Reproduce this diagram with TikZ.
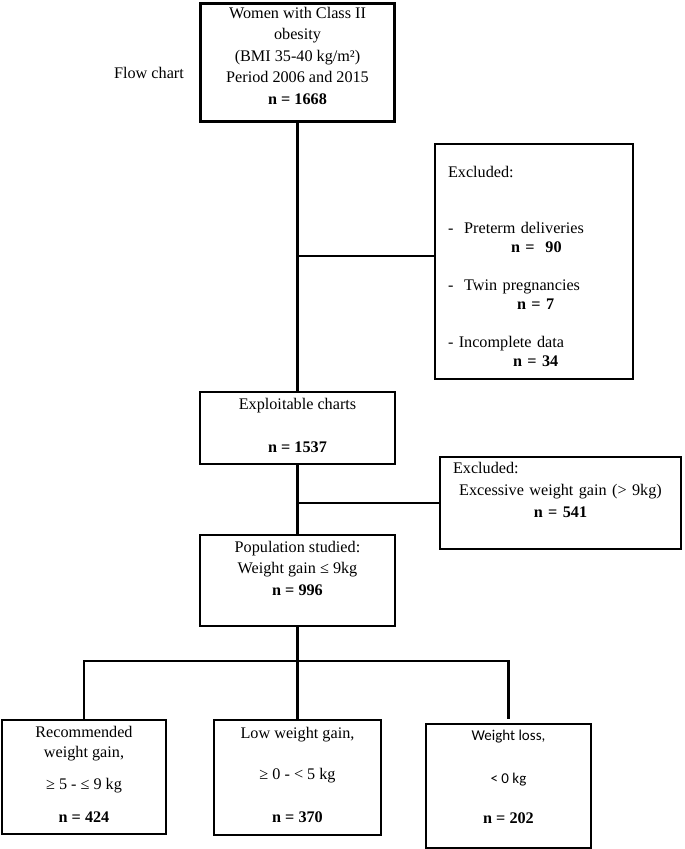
\documentclass[tikz,border=0pt]{standalone}
\usepackage{fontspec}
\setmainfont{Liberation Serif}
\newfontfamily\calibfont{Carlito}

\begin{document}
\begin{tikzpicture}[x=1pt, y=-1pt,
    box/.style={draw, line width=2.2pt, align=center, inner sep=0pt,
        font=\fontsize{16.2}{21.5}\selectfont},
    link/.style={line width=2.8pt}]
    \useasboundingbox (0,0) rectangle (685,849);

    % Title on the left
    \node[font=\fontsize{16.2}{20}\selectfont] (title) at (149,73) {Flow chart};

    % Main column
    \node[box, line width=3pt, minimum width=194pt, minimum height=118pt] (women) at (297.5,62)
        {Women with Class II\\ obesity\\ (BMI 35-40 kg/m²)\\ Period 2006 and 2015\\
         \textbf{n = 1668}\rule[-13pt]{0pt}{0pt}};
    \node[box, minimum width=195pt, minimum height=72pt] (expl) at (297.5,428)
        {Exploitable charts\\[21.5pt] \textbf{n = 1537}\rule[-6pt]{0pt}{0pt}};
    \node[box, minimum width=195pt, minimum height=91pt] (pop) at (297.5,580.5)
        {Population studied:\\ Weight gain ≤ 9kg\\ \textbf{n = 996}\rule[-25pt]{0pt}{0pt}};

    % Excluded boxes
    \node[box, align=left, text width=172pt, minimum width=198pt, minimum height=235pt,
        font=\fontsize{16.2}{19}\selectfont] (excl1) at (534,261.5)
        {\rule{0pt}{22pt}Excluded:\\[37pt]
         -\ \ Preterm deliveries\\ \hspace*{63pt}\textbf{n =\ \ 90}\\[19pt]
         -\ \ Twin pregnancies\\ \hspace*{69pt}\textbf{n = 7}\\[19pt]
         - Incomplete data\\ \hspace*{65pt}\textbf{n = 34}};
    \node[box, text width=215pt, minimum width=241pt, minimum height=92pt,
        font=\fontsize{16.2}{22}\selectfont] (excl2) at (560.5,503)
        {Excluded:\hfill\mbox{}\\ Excessive weight gain (> 9kg)\\
         \textbf{n = 541}\rule[-27pt]{0pt}{0pt}};

    % Weight gain groups
    \node[box, minimum width=164pt, minimum height=114pt] (rec) at (84,777)
        {Recommended\\[-1.5pt] weight gain,\\[10.5pt] ≥ 5 - ≤ 9 kg\\[11.5pt]
         \textbf{n = 424}\rule[-6pt]{0pt}{0pt}};
    \node[box, minimum width=167pt, minimum height=115pt] (low) at (297.5,777.5)
        {Low weight gain,\\[19.5pt] ≥ 0 - < 5 kg\\[21.5pt]
         \textbf{n = 370}\rule[-6pt]{0pt}{0pt}};
    \node[box, minimum width=165pt, minimum height=124pt] (loss) at (508.5,786)
        {{\calibfont\fontsize{15}{21.5}\selectfont Weight loss,}\\[21.5pt]
         {\calibfont\fontsize{15}{21.5}\selectfont < 0 kg}\\[18.5pt]
         \textbf{n = 202}\rule[-19pt]{0pt}{0pt}};

    % Connectors
    \coordinate (j1) at (297.5,256);
    \coordinate (bus) at (297.5,661);
    \draw[link] (women.south) -- (expl.north);
    \draw[link] (j1) -- (j1 -| excl1.west);
    \draw[link] (expl.south) -- (pop.north);
    \draw[link] (excl2.west) -- (excl2.west -| expl.south);
    \draw[link] (pop.south) -- (bus);
    \draw[link] (bus) -| (rec.north);
    \draw[link] (bus) -- (low.north);
    \draw[link, shorten >=4pt] (bus) -| (loss.north);
\end{tikzpicture}
\end{document}
